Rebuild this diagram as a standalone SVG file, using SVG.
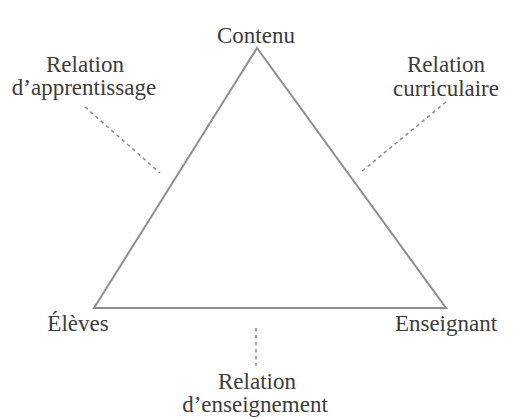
<svg xmlns="http://www.w3.org/2000/svg" width="518" height="419" viewBox="0 0 518 419">
<style>
text{font-family:"Liberation Serif","Times New Roman",serif;font-size:23px;fill:#3c3c3c;text-anchor:middle}
.edge{stroke:#8f8f8f;stroke-width:2;fill:none}
.dash{stroke:#8a8a8a;stroke-width:1.5;fill:none;stroke-dasharray:3.5 3.5}
</style>
<rect width="518" height="419" fill="#fff"/>
<g id="connectors">
<polygon class="edge" points="257,48 94,308 446,308" stroke-linejoin="miter"/>
<line class="dash" x1="85" y1="107" x2="160" y2="173"/>
<line class="dash" x1="446" y1="102" x2="361" y2="172"/>
<line class="dash" x1="256" y1="328" x2="256" y2="366"/>
</g>
<g id="contenu"><text x="256" y="43">Contenu</text></g>
<g id="eleves"><text x="78" y="331">Élèves</text></g>
<g id="enseignant"><text x="446" y="331">Enseignant</text></g>
<g id="rel-apprentissage"><text x="85" y="72">Relation</text><text x="84" y="95">d’apprentissage</text></g>
<g id="rel-curriculaire"><text x="446" y="72">Relation</text><text x="446" y="96">curriculaire</text></g>
<g id="rel-enseignement"><text x="257" y="389">Relation</text><text x="255" y="412">d’enseignement</text></g>
</svg>
